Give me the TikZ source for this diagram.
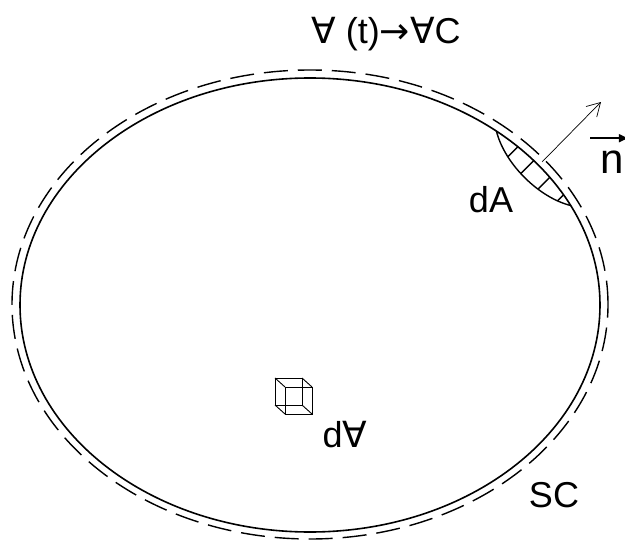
\documentclass[tikz,border=0pt]{standalone}
\usepackage{fontspec}
\setmainfont{Liberation Sans}
\newfontfamily\symfont{DejaVu Sans}
\usetikzlibrary{arrows.meta,calc}

\begin{document}
\begin{tikzpicture}[
  x=1pt, y=-1pt,
  lbl/.style={inner sep=0pt, anchor=base, font=\fontsize{36}{40}\selectfont},
  ttl/.style={inner sep=0pt, anchor=base, font=\fontsize{36}{40}\selectfont},
  sc/.style={line width=1.6pt},
  cv/.style={line width=1.4pt, dash pattern=on 24pt off 10pt},
  hatch/.style={line width=1.4pt},
  nrm/.style={-{Straight Barb[length=13pt,width=15pt]}, line width=0.7pt},
  vec/.style={-{Triangle[length=9pt,width=8pt]}, line width=1.6pt},
  cube/.style={line width=0.9pt}
]
\useasboundingbox (0,0) rectangle (625,541);

\draw[cv] (310,304.5) ellipse [x radius=298pt, y radius=234.5pt];
\draw[sc] (310,305) ellipse [x radius=290pt, y radius=227pt];

\coordinate (p1) at ({310+290*cos(50)},{305-227*sin(50)});
\coordinate (p2) at ({310+290*cos(26)},{305-227*sin(26)});

\begin{scope}
  \clip (p1) .. controls (505,165) and (540,198) .. (p2)
    arc [start angle=26, end angle=50, x radius=290pt, y radius=227pt] -- cycle;
  \foreach \f in {0.25,0.45,0.67,0.88}
    \draw[hatch] ($(p1)!\f!(p2)+(-25,25)$) -- ++(50,-50);
\end{scope}
\draw[hatch] (p1) .. controls (505,165) and (540,198) .. (p2);

\coordinate (base) at (542,162);
\coordinate (tip) at (601,102);
\draw[nrm] (base) -- (tip);

\node[ttl] (title) at (386,43) {{\symfont ∀} (t){\symfont →}{\symfont ∀}C};
\node[lbl] (dA) at (491,212) {dA};
\node[lbl] (dV) at (345,447) {d{\symfont ∀}};
\node[lbl] (sc) at (554,507) {SC};
\node[lbl, font=\fontsize{42}{46}\selectfont] (n) at (612,173) {n};
\draw[vec] ([xshift=-10pt,yshift=12pt]n.north west) -- ([xshift=4pt,yshift=12pt]n.north east);

\draw[cube] (275,378) rectangle ++(27,27);
\draw[cube] (285,387) rectangle ++(27,27);
\foreach \dx/\dy in {0/0,27/0,0/27,27/27}
  \draw[cube] ({275+\dx},{378+\dy}) -- ++(10,9);

\end{tikzpicture}
\end{document}
